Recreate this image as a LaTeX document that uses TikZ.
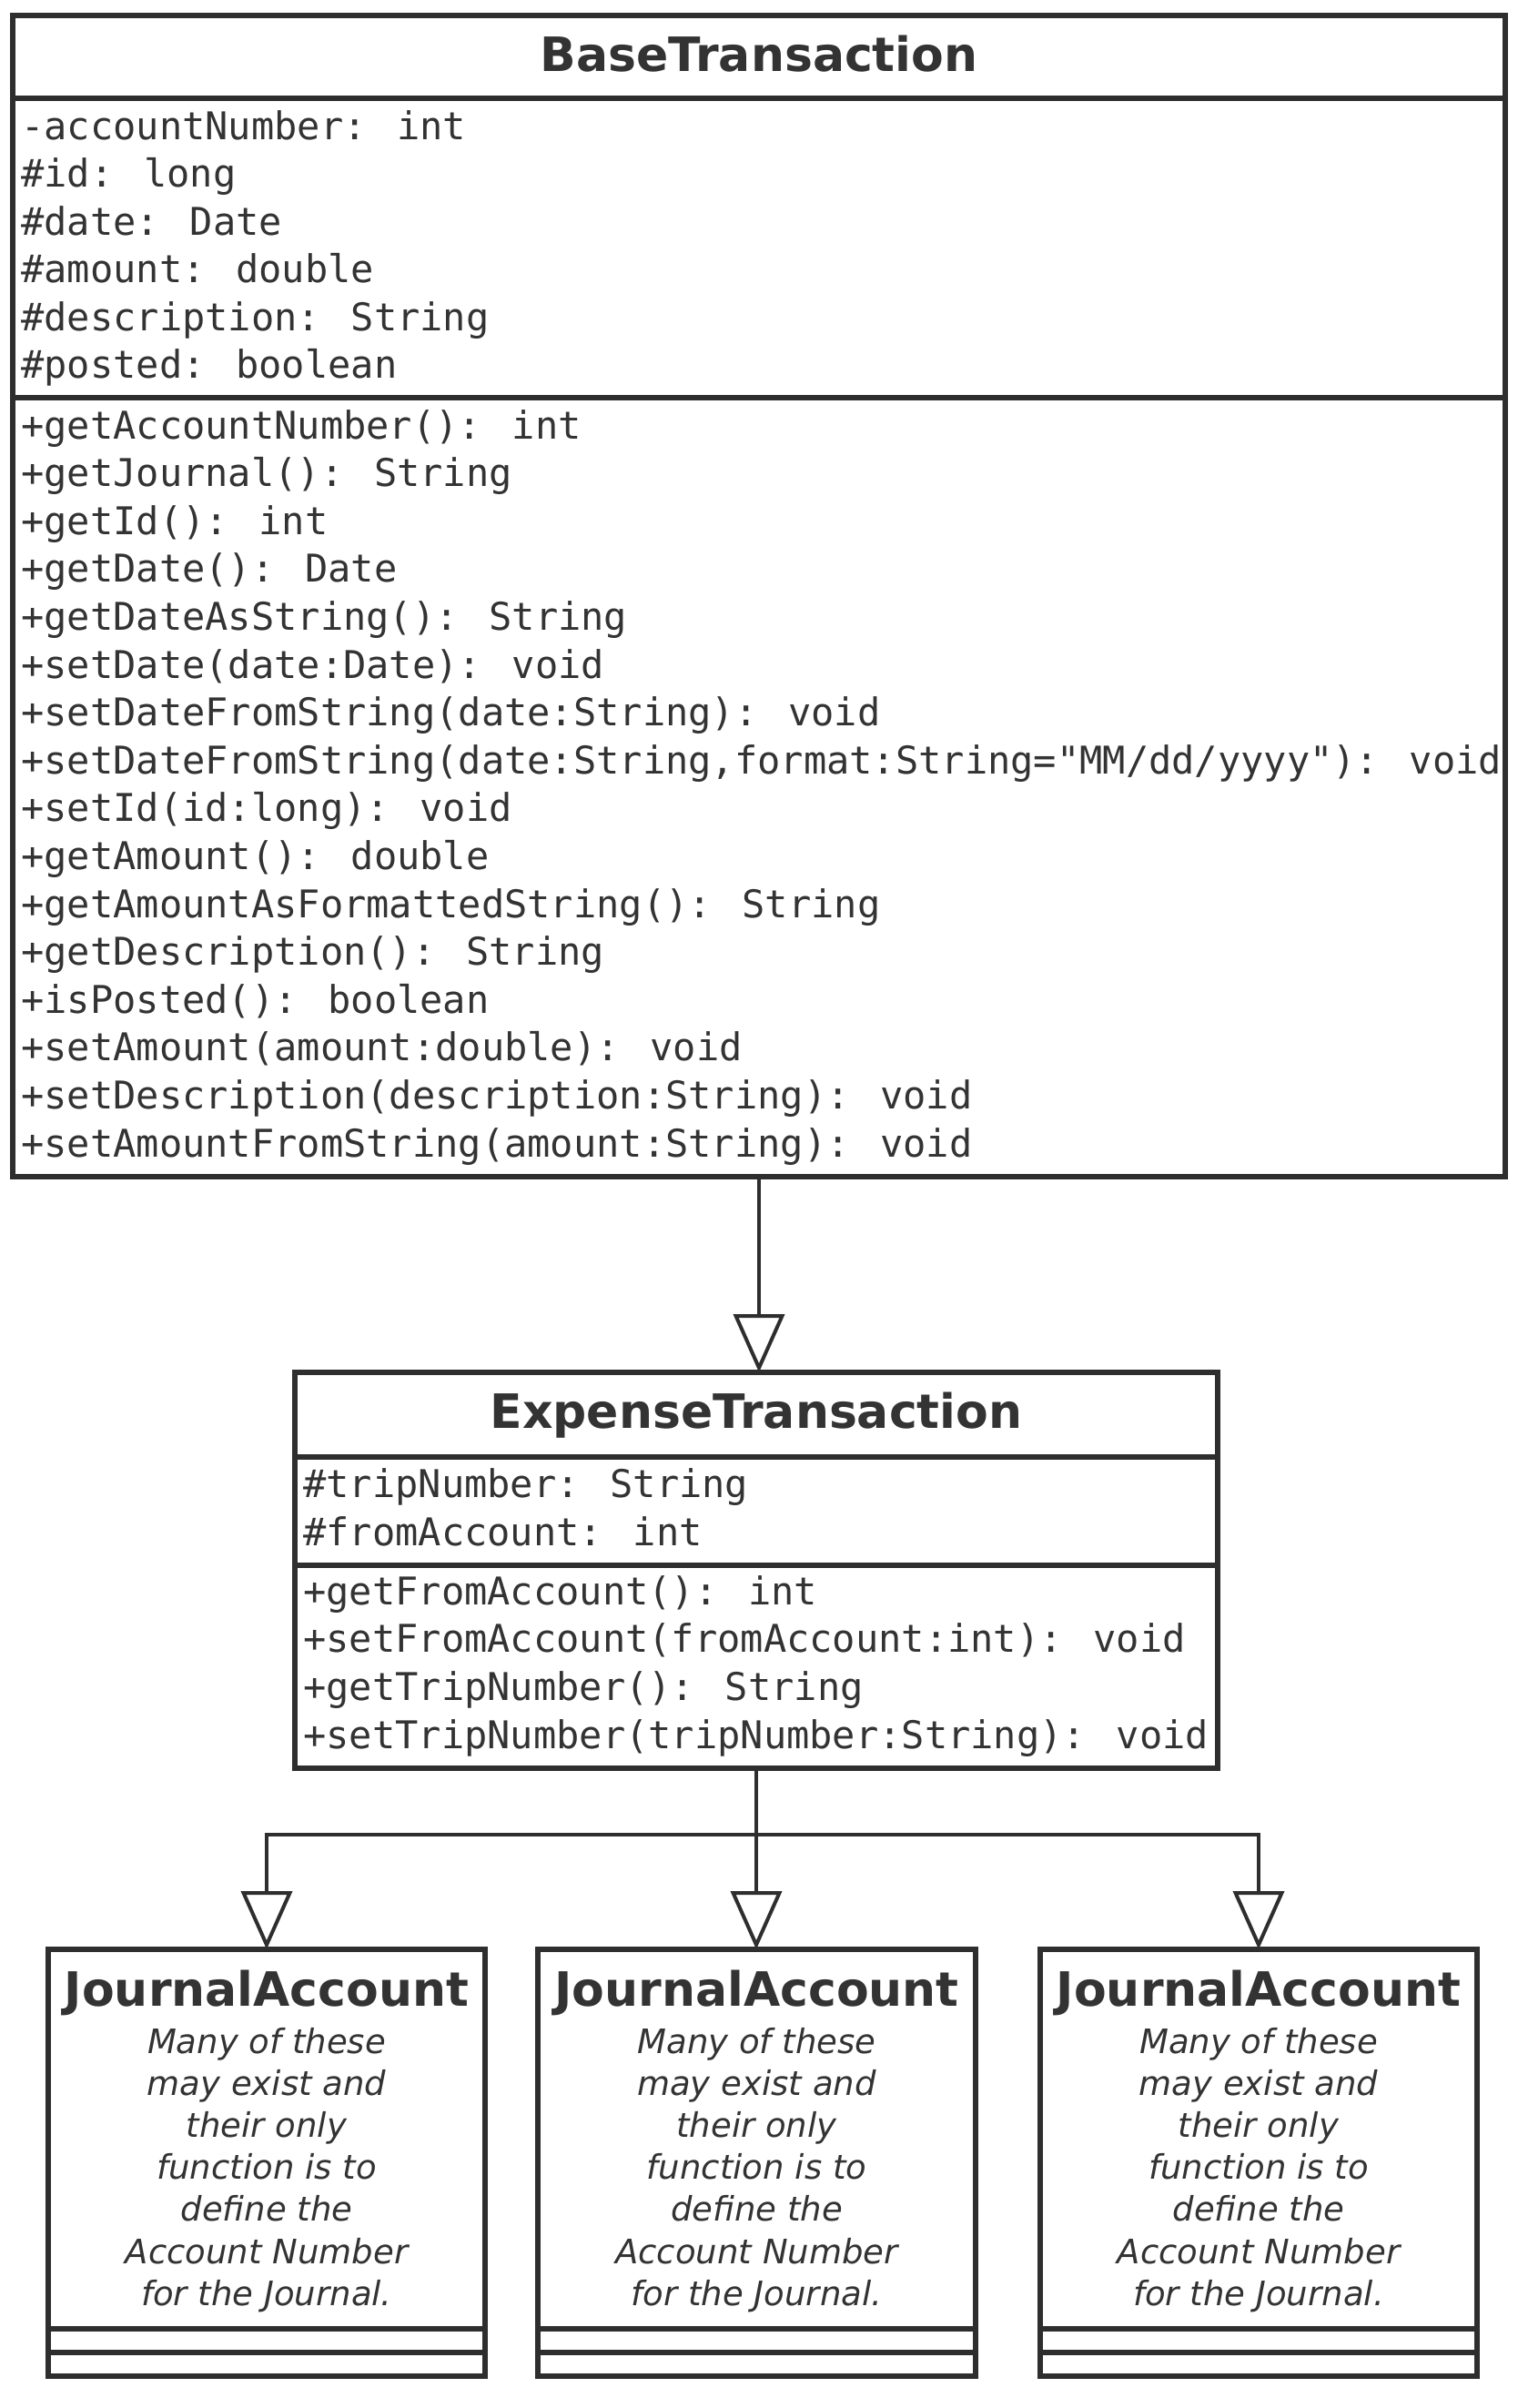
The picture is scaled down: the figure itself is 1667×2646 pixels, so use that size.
\documentclass[tikz,border=0pt]{standalone}
\usepackage{fontspec}
\newfontfamily\monof{DejaVu Sans Mono}
\newfontfamily\sansf{DejaVu Sans}[BoldFont={DejaVu Sans Bold},ItalicFont={DejaVu Sans Oblique}]
\usetikzlibrary{arrows.meta,fit}
\definecolor{ink}{HTML}{2E2E2E}
\definecolor{txt}{HTML}{333333}
\begin{document}
\begin{tikzpicture}[x=0.5pt,y=-0.5pt,
  box/.style={draw=ink,line width=2.6pt,inner sep=0pt,outer sep=0pt,fill=white},
  sep/.style={draw=ink,line width=2.6pt},
  mono/.style={font=\monof\fontsize{21}{26}\selectfont,text=txt,inner sep=0pt},
  ttl/.style={font=\sansf\bfseries\fontsize{26}{31}\selectfont,text=txt,inner sep=0pt},
  note/.style={font=\sansf\itshape\fontsize{18.5}{23}\selectfont,text=txt,inner sep=0pt},
  gen/.style={draw=ink,line width=2pt,-{Triangle[open,length=32pt,width=28pt]}}
]
\useasboundingbox[fill=white] (0,0) rectangle (1667,2646);

% ---------- BaseTransaction ----------
\node[box,fit={(14,17) (1654,1293)}] (base) {};
\draw[sep] (14,108) -- (1654,108);
\draw[sep] (14,437) -- (1654,437);
\node[ttl,anchor=base] (base-name) at (834,78) {BaseTransaction};
\foreach \t [count=\i from 0] in {
  {-accountNumber: int},
  {\#id: long},
  {\#date: Date},
  {\#amount: double},
  {\#description: String},
  {\#posted: boolean}}
  \node[mono,anchor=base west] (base-a\i) at (23,153+52.5*\i) {\t};
\foreach \t [count=\i from 0] in {
  {+getAccountNumber(): int},
  {+getJournal(): String},
  {+getId(): int},
  {+getDate(): Date},
  {+getDateAsString(): String},
  {+setDate(date:Date): void},
  {+setDateFromString(date:String): void},
  {+setDateFromString(date:String,format:String="MM/dd/yyyy"): void},
  {+setId(id:long): void},
  {+getAmount(): double},
  {+getAmountAsFormattedString(): String},
  {+getDescription(): String},
  {+isPosted(): boolean},
  {+setAmount(amount:double): void},
  {+setDescription(description:String): void},
  {+setAmountFromString(amount:String): void}}
  \node[mono,anchor=base west] (base-m\i) at (23,482+52.6*\i) {\t};

% ---------- ExpenseTransaction ----------
\node[box,fit={(324,1508) (1338,1943)}] (exp) {};
\draw[sep] (324,1601) -- (1338,1601);
\draw[sep] (324,1720) -- (1338,1720);
\node[ttl,anchor=base] (exp-name) at (831,1569) {ExpenseTransaction};
\node[mono,anchor=base west] (exp-a0) at (333,1645) {\#tripNumber: String};
\node[mono,anchor=base west] (exp-a1) at (333,1698) {\#fromAccount: int};
\foreach \t [count=\i from 0] in {
  {+getFromAccount(): int},
  {+setFromAccount(fromAccount:int): void},
  {+getTripNumber(): String},
  {+setTripNumber(tripNumber:String): void}}
  \node[mono,anchor=base west] (exp-m\i) at (333,1763+52.7*\i) {\t};

% ---------- JournalAccount boxes ----------
\foreach \n/\l/\r in {1/53/533, 2/591/1072, 3/1143/1623} {
  \node[box,fit={(\l,2142) (\r,2611)}] (j\n) {};
  \draw[sep] (\l,2559) -- (\r,2559);
  \draw[sep] (\l,2585) -- (\r,2585);
  \node[ttl,anchor=base] (j\n-name) at ({(\l+\r)/2},2204) {JournalAccount};
  \foreach \t [count=\k from 0] in {
    {Many of these},
    {may exist and},
    {their only},
    {function is to},
    {define the},
    {Account Number},
    {for the Journal.}}
    \node[note,anchor=base] (j\n-t\k) at ({(\l+\r)/2},2256+46.2*\k) {\t};
}

% ---------- connectors ----------
\draw[gen] (base.south) -- (base.south |- exp.north);
\coordinate (junc) at (exp.south |- 0,2016);
\draw[gen] (exp.south) -- (exp.south |- j2.north);
\draw[gen] (junc) -| (j1.north);
\draw[gen] (junc) -| (j3.north);
\end{tikzpicture}
\end{document}
